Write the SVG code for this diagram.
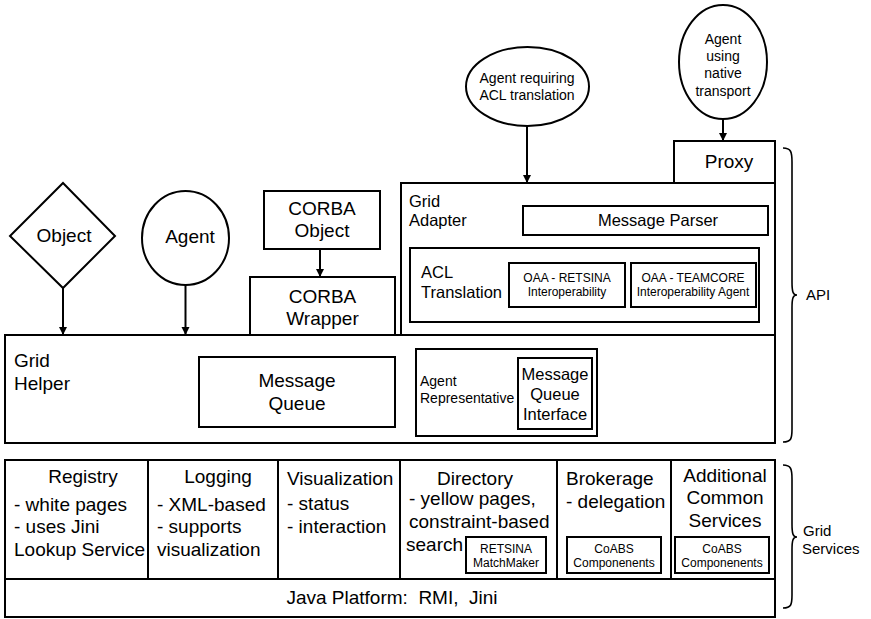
<svg xmlns="http://www.w3.org/2000/svg" width="871" height="619" viewBox="0 0 871 619">
<defs>
<marker id="ah" markerUnits="userSpaceOnUse" markerWidth="10" markerHeight="10" refX="8" refY="4.5" orient="auto">
<path d="M0,0.5 L8,4.5 L0,8.5 Z" fill="#000"/>
</marker>
</defs>
<style>
.b{fill:#fff;stroke:#000;stroke-width:2}
.n{fill:none;stroke:#000;stroke-width:2}
.br{fill:none;stroke:#000;stroke-width:1.6}
.c{stroke:#000;stroke-width:2;fill:none;marker-end:url(#ah)}
text{font-family:"Liberation Sans",Arial,sans-serif;fill:#000}
.L{font-size:19px}
.M{font-size:16.5px}
.S{font-size:12px}
.R{font-size:14px}
.m{text-anchor:middle}
</style>
<rect x="0" y="0" width="871" height="619" fill="#fff"/>

<g id="object">
<polygon class="b" points="63,183 115,236 63,288 10,236"/>
<text class="L m" x="64" y="242">Object</text>
</g>
<g id="agent">
<ellipse class="b" cx="185.5" cy="238" rx="43.5" ry="47"/>
<text class="L m" x="190" y="243">Agent</text>
</g>
<g id="corba-object">
<rect class="b" x="264" y="191" width="116" height="58"/>
<text class="L m" x="322" y="215">CORBA</text>
<text class="L m" x="322" y="237">Object</text>
</g>
<g id="corba-wrapper">
<rect class="b" x="250" y="277" width="145" height="58"/>
<text class="L m" x="322.5" y="303">CORBA</text>
<text class="L m" x="322.5" y="325">Wrapper</text>
</g>
<g id="agent-acl">
<ellipse class="b" cx="527.5" cy="86.5" rx="61.5" ry="39.5"/>
<text class="R m" x="527" y="83">Agent requiring</text>
<text class="R m" x="527" y="100">ACL translation</text>
</g>
<g id="agent-native">
<ellipse class="b" cx="723" cy="62" rx="44" ry="57"/>
<text class="R m" x="723" y="44">Agent</text>
<text class="R m" x="723" y="61">using</text>
<text class="R m" x="723" y="78">native</text>
<text class="R m" x="723" y="96">transport</text>
</g>
<g id="proxy">
<rect class="b" x="674" y="141" width="101" height="42"/>
<text class="L m" x="729" y="168">Proxy</text>
</g>
<g id="grid-adapter">
<rect class="b" x="401" y="183" width="374" height="152"/>
<text class="M" x="409" y="207">Grid</text>
<text class="M" x="409" y="226">Adapter</text>
</g>
<g id="message-parser">
<rect class="b" x="523" y="206" width="245" height="29"/>
<text class="M m" x="658" y="226">Message Parser</text>
</g>
<g id="acl-translation">
<rect class="b" x="410" y="248" width="349" height="74"/>
<text class="M" x="421" y="278">ACL</text>
<text class="M" x="421" y="298">Translation</text>
</g>
<g id="oaa-retsina">
<rect class="b" x="509" y="263" width="116" height="44"/>
<text class="S m" x="567" y="282">OAA - RETSINA</text>
<text class="S m" x="567" y="296">Interoperability</text>
</g>
<g id="oaa-teamcore">
<rect class="b" x="631" y="263" width="125" height="44"/>
<text class="S m" x="693" y="282">OAA - TEAMCORE</text>
<text class="S m" x="693" y="296">Interoperability Agent</text>
</g>
<g id="grid-helper">
<rect class="b" x="5" y="335" width="770" height="108"/>
<text class="L" x="14" y="367">Grid</text>
<text class="L" x="14" y="390">Helper</text>
</g>
<g id="message-queue">
<rect class="b" x="199" y="357" width="196" height="70"/>
<text class="L m" x="297" y="387">Message</text>
<text class="L m" x="297" y="410">Queue</text>
</g>
<g id="agent-representative">
<rect class="b" x="416" y="349" width="181" height="87"/>
<text class="R" x="420" y="386">Agent</text>
<text class="R" x="420" y="403">Representative</text>
</g>
<g id="mq-interface">
<rect class="b" x="518" y="358" width="74" height="71"/>
<text class="M m" x="555" y="380">Message</text>
<text class="M m" x="555" y="400">Queue</text>
<text class="M m" x="555" y="420">Interface</text>
</g>
<g id="grid-services">
<rect class="b" x="5" y="460" width="770" height="119"/>
<line class="n" x1="148" y1="460" x2="148" y2="579"/>
<line class="n" x1="278" y1="460" x2="278" y2="579"/>
<line class="n" x1="400" y1="460" x2="400" y2="579"/>
<line class="n" x1="557" y1="460" x2="557" y2="579"/>
<line class="n" x1="671" y1="460" x2="671" y2="579"/>
</g>
<g id="registry">
<text class="L m" x="83" y="483">Registry</text>
<text class="L" x="14" y="511">- white pages</text>
<text class="L" x="14" y="533">- uses Jini</text>
<text class="L" x="14" y="556">Lookup Service</text>
</g>
<g id="logging">
<text class="L m" x="218" y="483">Logging</text>
<text class="L" x="157" y="511">- XML-based</text>
<text class="L" x="157" y="533">- supports</text>
<text class="L" x="157" y="556">visualization</text>
</g>
<g id="visualization">
<text class="L" x="287" y="485">Visualization</text>
<text class="L" x="287" y="510">- status</text>
<text class="L" x="287" y="533">- interaction</text>
</g>
<g id="directory">
<text class="L m" x="475" y="485">Directory</text>
<text class="L" x="409" y="505">- yellow pages,</text>
<text class="L" x="409" y="528">constraint-based</text>
<text class="L" x="406" y="551">search</text>
<rect class="b" x="466" y="537" width="80" height="36"/>
<text class="S m" x="506" y="553">RETSINA</text>
<text class="S m" x="506" y="567">MatchMaker</text>
</g>
<g id="brokerage">
<text class="L" x="566" y="485">Brokerage</text>
<text class="L" x="566" y="508">- delegation</text>
<rect class="b" x="567" y="537" width="94" height="36"/>
<text class="S m" x="614" y="553">CoABS</text>
<text class="S m" x="614" y="567">Componenents</text>
</g>
<g id="additional">
<text class="L m" x="725" y="482">Additional</text>
<text class="L m" x="725" y="504">Common</text>
<text class="L m" x="725" y="527">Services</text>
<rect class="b" x="675" y="537" width="94" height="36"/>
<text class="S m" x="722" y="553">CoABS</text>
<text class="S m" x="722" y="567">Componenents</text>
</g>
<g id="java-platform">
<rect class="b" x="5" y="579" width="770" height="38"/>
<text class="L m" x="392" y="604" style="white-space:pre">Java Platform:  RMI,  Jini</text>
</g>
<g id="api-brace">
<path class="br" d="M783,148 C791,148 792,152 792,162 L792,282 C792,292 793,295 797,295 C793,295 792,298 792,308 L792,429 C792,439 791,442 783,442"/>
<text x="806" y="300" style="font-size:15px">API</text>
</g>
<g id="services-brace">
<path class="br" d="M783,465 C791,465 792,469 792,479 L792,524 C792,534 793,537 797,537 C793,537 792,540 792,550 L792,595 C792,605 791,608 783,608"/>
<text x="803" y="536" style="font-size:15px">Grid</text>
<text x="802" y="554" style="font-size:15px">Services</text>
</g>
<g id="connectors">
<line class="c" x1="63" y1="288" x2="63" y2="335"/>
<line class="c" x1="185.5" y1="285" x2="185.5" y2="335"/>
<line class="c" x1="320" y1="249" x2="320" y2="277"/>
<line class="c" x1="527" y1="126" x2="527" y2="183"/>
<line class="c" x1="723" y1="119" x2="723" y2="141"/>
</g>
</svg>
